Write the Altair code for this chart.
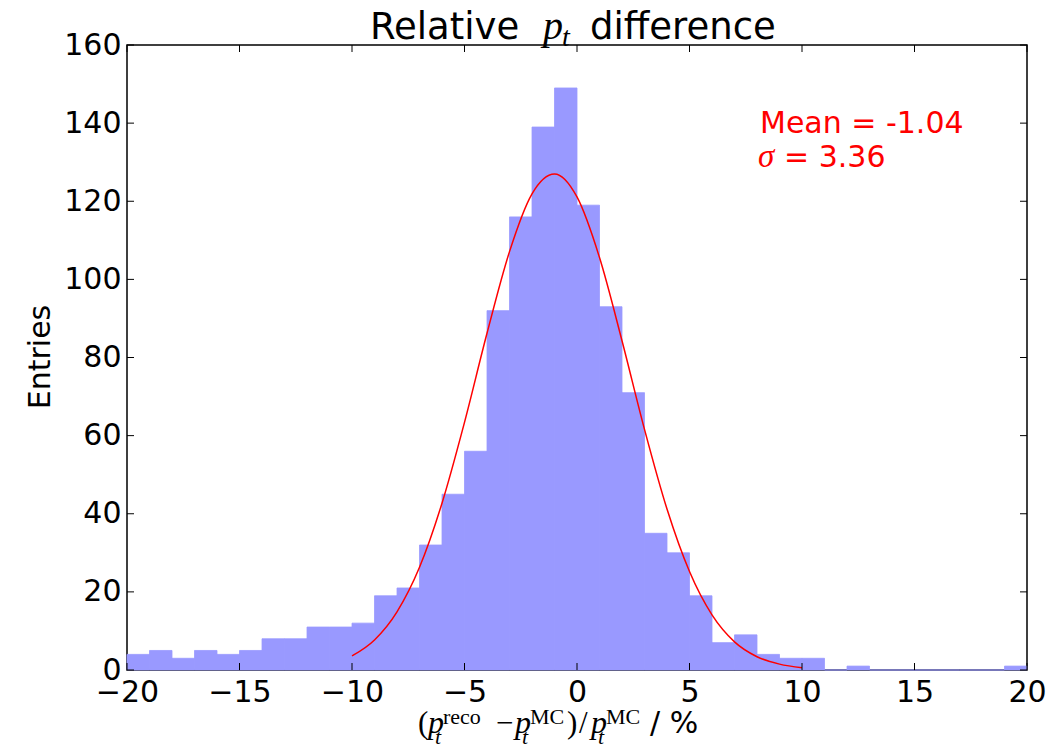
import altair as alt
import pandas as pd

# ---------------- data ----------------
bin_left = list(range(-20, 20))
counts = [4, 5, 3, 5, 4, 5, 8, 8, 11, 11,
          12, 19, 21, 32, 45, 56, 92, 116, 139, 149,
          119, 93, 71, 35, 30, 19, 7, 9, 4, 3,
          3, 0, 1, 0, 0, 0, 0, 0, 0, 1]
bin_width = 1

fit_x = [-10, -9, -8, -7, -6, -5, -4, -3, -2, -1, 0,
         1, 2, 3, 4, 5, 6, 7, 8, 9, 10]
fit_y = [3.6, 7.7, 14.9, 26.3, 42.7, 63.4, 86.2, 107.1, 121.9, 127.0, 121.1,
         105.6, 84.3, 61.6, 41.2, 25.2, 14.1, 7.2, 3.4, 1.5, 0.6]

x_ticks = [-20, -15, -10, -5, 0, 5, 10, 15, 20]
y_ticks = [0, 20, 40, 60, 80, 100, 120, 140, 160]

mean_label = "Mean = -1.04"
sigma_label = "= 3.36"

# ---------------- layout ----------------
W, H = 900, 625
TICK = 7
xs = alt.Scale(domain=[-20, 20], nice=False, zero=False)
ys = alt.Scale(domain=[0, 160], nice=False)

hist_df = pd.DataFrame({
    "left": bin_left,
    "right": [b + bin_width for b in bin_left],
    "count": counts,
})
fit_df = pd.DataFrame({"x": fit_x, "y": fit_y})
xt_df = pd.DataFrame({"v": x_ticks})
yt_df = pd.DataFrame({"v": y_ticks})

x_axis = alt.Axis(values=x_ticks, title=None, grid=False, domain=False,
                  tickSize=0, labelFont="DejaVu Sans", labelFontSize=30,
                  labelColor="black", labelPadding=7, format="d",
                  labelFlush=False, labelOverlap=False)
y_axis = alt.Axis(values=y_ticks, title=None, grid=False, domain=False,
                  tickSize=0, labelFont="DejaVu Sans", labelFontSize=30,
                  labelColor="black", labelPadding=6, format="d",
                  labelFlush=False, labelOverlap=False)

bars = alt.Chart(hist_df).mark_rect(
    color="#9999ff", stroke="#9999ff", strokeWidth=0.8
).encode(
    x=alt.X("left:Q", scale=xs, axis=x_axis),
    x2="right:Q",
    y=alt.Y("count:Q", scale=ys, axis=y_axis),
    y2=alt.datum(0),
)

fit = alt.Chart(fit_df).mark_line(color="#ff0000", strokeWidth=1.5,
                                  interpolate="monotone").encode(
    x=alt.X("x:Q", scale=xs),
    y=alt.Y("y:Q", scale=ys),
)

tick_style = dict(color="black", strokeWidth=1)
xt_bottom = alt.Chart(xt_df).mark_rule(**tick_style).encode(
    x=alt.X("v:Q", scale=xs), y=alt.value(H - TICK), y2=alt.value(H))
xt_top = alt.Chart(xt_df).mark_rule(**tick_style).encode(
    x=alt.X("v:Q", scale=xs), y=alt.value(0), y2=alt.value(TICK))
yt_left = alt.Chart(yt_df).mark_rule(**tick_style).encode(
    y=alt.Y("v:Q", scale=ys), x=alt.value(0), x2=alt.value(TICK))
yt_right = alt.Chart(yt_df).mark_rule(**tick_style).encode(
    y=alt.Y("v:Q", scale=ys), x=alt.value(W - TICK), x2=alt.value(W))

one = pd.DataFrame({"a": [0]})


def txt(s, x, y, size, font="DejaVu Sans", style="normal", color="black",
        align="left", angle=0):
    return alt.Chart(one).mark_text(
        text=s, align=align, baseline="alphabetic", font=font,
        fontSize=size, fontStyle=style, color=color, angle=angle,
    ).encode(x=alt.value(x), y=alt.value(y))


SERIF = "Liberation Serif"
BASE, SUP, SUB = 688, 679, 699
pieces = [
    # title
    txt("Relative", 243, -6, 37),
    txt("p", 416, -6, 40, SERIF, "italic"),
    txt("t", 435, 1, 28, SERIF, "italic"),
    txt("difference", 463, -6, 37),
    # y title
    txt("Entries", -77, 312, 30, align="center", angle=270),
    # x title
    txt("(", 291, BASE, 31, SERIF),
    txt("p", 301, BASE, 32, SERIF, "italic"),
    txt("t", 308, SUB, 22, SERIF, "italic"),
    txt("reco", 316, SUP, 22, SERIF),
    txt("\u2212", 369, BASE, 31, SERIF),
    txt("p", 388, BASE, 32, SERIF, "italic"),
    txt("t", 395, SUB, 22, SERIF, "italic"),
    txt("MC", 403, SUP, 22, SERIF),
    txt(")", 440, BASE, 31, SERIF),
    txt("/", 452, BASE, 31, SERIF),
    txt("p", 464, BASE, 32, SERIF, "italic"),
    txt("t", 471, SUB, 22, SERIF, "italic"),
    txt("MC", 479, SUP, 22, SERIF),
    txt("/ %", 523, BASE, 30),
    # annotation
    txt(mean_label, 633, 88, 30, color="#ff0000"),
    txt("\u03c3", 631, 122, 33, SERIF, "italic", color="#ff0000"),
    txt(sigma_label, 657, 122, 30, color="#ff0000"),
]

chart = alt.layer(
    bars, fit, xt_bottom, xt_top, yt_left, yt_right, *pieces
).properties(
    width=W, height=H,
    padding={"left": 119, "top": 37, "right": 20, "bottom": 76},
    autosize=alt.AutoSizeParams(type="none"),
    background="white",
).configure_view(stroke="black", strokeWidth=1.5)

chart.save("out.html", embed_options={"renderer": "svg", "actions": False})
